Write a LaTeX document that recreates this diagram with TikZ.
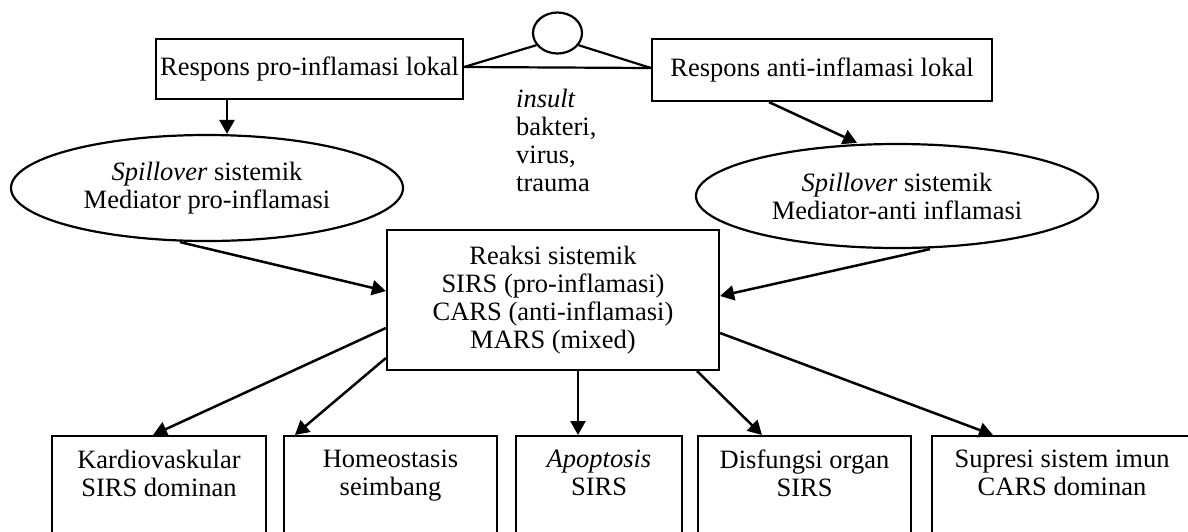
\documentclass[tikz,border=0pt]{standalone}
\usepackage{fontspec}
\setmainfont{Liberation Serif}
\usetikzlibrary{shapes.geometric,arrows.meta,calc}
\newcommand\myfs{\fontsize{26.5}{28}\selectfont}
\begin{document}
\begin{tikzpicture}[x=1pt,y=-1pt,
  every node/.style={font=\myfs},
  box/.style={draw, line width=2.2pt, inner sep=0pt, align=center},
  ell/.style={draw, ellipse, line width=2.2pt, inner sep=0pt, align=center},
  bbox/.style={draw, line width=2.2pt, inner sep=0pt, anchor=north, minimum height=140},
  btxt/.style={inner sep=0pt, anchor=north, align=center},
  arr/.style={line width=2.5pt, -{Triangle[length=14pt,width=15pt]}},
  ln/.style={line width=2.2pt}]
\useasboundingbox (0,0) rectangle (1188,531);
\clip (0,0) rectangle (1188,531);

% top boxes
\node[box, minimum width=307, minimum height=60] (tl) at (309.5,69) {Respons pro-inflamasi lokal};
\node[box, minimum width=340, minimum height=62] (tr) at (822,70) {Respons anti-inflamasi lokal};

% insult circle and triangle
\node[draw, ellipse, line width=2.2pt, minimum width=49, minimum height=41, inner sep=0pt] (ins) at (557.5,33) {};
\draw[ln] ([yshift=2]tl.east) -- (ins.210);
\draw[ln] ([yshift=2]tr.west) -- (ins.330);
\draw[ln] ([yshift=2]tl.east) -- ([yshift=2]tr.west);
\node[anchor=west, align=left, inner sep=0pt] (ti) at (516,140) {\textit{insult}\\bakteri,\\virus,\\trauma};

% ellipses
\node[ell, minimum width=392, minimum height=106] (el) at (207,188) {\textit{Spillover} sistemik\\Mediator pro-inflamasi};
\node[ell, minimum width=402, minimum height=104] (er) at (897,196) {\textit{Spillover} sistemik\\Mediator-anti inflamasi};

% central box
\node[box, minimum width=332, minimum height=140] (c) at (553,300) {Reaksi sistemik\\SIRS (pro-inflamasi)\\CARS (anti-inflamasi)\\MARS (mixed)};

% bottom boxes
\node[bbox, minimum width=214] (b1) at (159,435) {};
\node[bbox, minimum width=213] (b2) at (390.5,435) {};
\node[bbox, minimum width=166] (b3) at (599,435) {};
\node[bbox, minimum width=213] (b4) at (804.5,435) {};
\node[bbox, minimum width=260] (b5) at (1062,435) {};
\node[btxt] (t1) at ([yshift=-15]b1.north) {Kardiovaskular\\SIRS dominan};
\node[btxt] (t2) at ([yshift=-15]b2.north) {Homeostasis\\seimbang};
\node[btxt] (t3) at ([yshift=-15]b3.north) {\textit{Apoptosis}\\SIRS};
\node[btxt] (t4) at ([yshift=-15]b4.north) {Disfungsi organ\\SIRS};
\node[btxt] (t5) at ([yshift=-15]b5.north) {Supresi sistem imun\\CARS dominan};

% arrows
\draw[arr] ([xshift=-82.5]tl.south) -- ([xshift=20]el.north);
\draw[arr] ([xshift=-53]tr.south) -- ([xshift=-40]er.north);
\draw[arr] ([xshift=-27]el.south) -- ([yshift=9]c.west);
\draw[arr] ([xshift=33]er.south) -- ([yshift=4]c.east);
\draw[arr] ([yshift=-28]c.west) -- ([xshift=-6]b1.north);
\draw[arr] ([yshift=-58]c.west) -- ([xshift=12]b2.north west);
\draw[arr] ([xshift=25]c.south) -- ([xshift=25]c.south |- b3.north);
\draw[arr] ([xshift=-23]c.south east) -- ([xshift=-42.5]b4.north);
\draw[arr] ([yshift=-33]c.east) -- ([xshift=-69]b5.north);
\end{tikzpicture}
\end{document}
